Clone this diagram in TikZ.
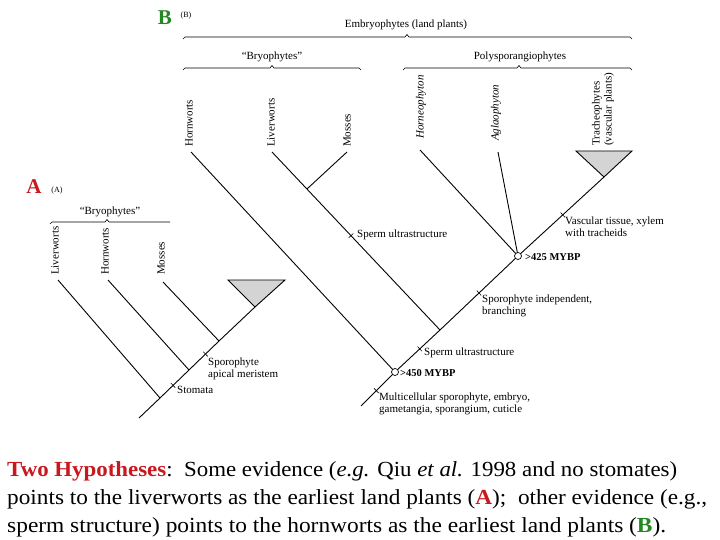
\documentclass[tikz,border=0pt]{standalone}
\usepackage{fontspec}
\usepackage{graphicx}
\setmainfont{Liberation Serif}
\usetikzlibrary{calc}
\definecolor{hypred}{RGB}{200,25,30}
\definecolor{hypgreen}{RGB}{35,135,35}
\definecolor{trifill}{RGB}{212,212,212}
\tikzset{
  branch/.style={line width=0.9pt, black},
  brace/.style={line width=0.6pt, black},
  taxon/.style={font=\fontsize{11}{12}\selectfont, rotate=90, anchor=west, inner sep=0pt},
  itaxon/.style={taxon, font=\fontsize{11}{12}\selectfont\itshape},
  clade/.style={font=\fontsize{11}{12}\selectfont, inner sep=0pt},
  note/.style={font=\fontsize{11}{12}\selectfont, align=left, anchor=west, inner sep=0pt},
  mybp/.style={font=\fontsize{10.5}{12}\selectfont\bfseries, anchor=west, inner sep=0pt},
  ring/.style={circle, draw, fill=white, inner sep=0pt, minimum size=7pt, line width=0.7pt},
  tri/.style={draw, fill=trifill, line width=0.9pt},
  bigletter/.style={font=\fontsize{21}{21}\selectfont\bfseries, inner sep=0pt},
  smallletter/.style={font=\fontsize{8}{8}\selectfont, inner sep=0pt},
  caption/.style={font=\fontsize{21.5}{22}\selectfont, anchor=base west, inner sep=0pt},
}
\newcommand\marktick[2]{\draw[line width=0.6pt] ($(#1)!3.2pt!90:(#2)$) -- ($(#1)!3.2pt!-90:(#2)$);}
\begin{document}
\begin{tikzpicture}[x=1pt,y=-1pt]
\useasboundingbox (0,0) rectangle (720,540);

% ===================== Tree B =====================
\node[bigletter, text=hypgreen] (Bl) at (165,18) {B};
\node[smallletter] (Bs) at (186,16) {(B)};

% brackets
\draw[brace] (183,39) -- (185,37) -- (405,37) -- (407,34.5) -- (409,37) -- (630,37) -- (632,39);
\node[clade] (emb) at (406,25) {Embryophytes (land plants)};
\draw[brace] (183,70) -- (185,68) -- (270,68) -- (272,65.5) -- (274,68) -- (359,68) -- (361,70);
\node[clade] (bryB) at (272,57) {``Bryophytes''};
\draw[brace] (403,70) -- (405,68) -- (517,68) -- (519,65.5) -- (521,68) -- (630,68) -- (632,70);
\node[clade] (poly) at (520,57) {Polysporangiophytes};

% taxon labels
\node[taxon] (hornB) at (189,147) {Hornworts};
\node[taxon] (livB) at (271,147) {Liverworts};
\node[taxon] (mossB) at (347,147) {Mosses};
\node[itaxon] (horneo) at (421,139) {Horneophyton};
\node[itaxon] (aglao) at (496,141) {Aglaophyton};
\node[taxon, align=left] (trach) at (603,146) {Tracheophytes\\(vascular plants)};

% coordinates
\coordinate (rootB) at (361,406);
\coordinate (c450) at (395,372);
\coordinate (jLB) at (440,330);
\coordinate (c425) at (518,256);
\coordinate (apexB) at (604,177);
\coordinate (tHornB) at (191,152);
\coordinate (tLivB) at (272,152);
\coordinate (tMossB) at (347,152);
\coordinate (tHorneo) at (420,150);
\coordinate (tAglao) at (498,152);
\coordinate (jMB) at ($(tLivB)!0.208!(jLB)$);

\draw[tri] (576,151) -- (632,151) -- (apexB) -- cycle;

\draw[branch] (rootB) -- (c450) -- (jLB) -- (c425) -- (apexB);
\draw[branch] (tHornB) -- (c450);
\draw[branch] (tLivB) -- (jLB);
\draw[branch] (tMossB) -- (jMB);
\draw[branch] (tHorneo) -- (c425);
\draw[branch] (tAglao) -- (c425);
\node[ring] (r450) at (c450) {};
\node[ring] (r425) at (c425) {};

% ticks and notes on tree B
\coordinate (kSpermL) at ($(tLivB)!0.47!(jLB)$);
\marktick{kSpermL}{jLB}
\node[note] (nSpermL) at (357,235) {Sperm ultrastructure};

\coordinate (kVasc) at ($(c425)!0.52!(apexB)$);
\marktick{kVasc}{apexB}
\node[note] (nVasc) at (565,227) {Vascular tissue, xylem\\with tracheids};

\coordinate (kSpInd) at ($(jLB)!0.5!(c425)$);
\marktick{kSpInd}{c425}
\node[note] (nSpInd) at (482,306) {Sporophyte independent,\\branching};

\coordinate (kSperm) at ($(c450)!0.55!(jLB)$);
\marktick{kSperm}{jLB}
\node[note] (nSperm) at (424,353) {Sperm ultrastructure};

\coordinate (kMulti) at ($(rootB)!0.45!(c450)$);
\marktick{kMulti}{c450}
\node[note] (nMulti) at (379,404) {Multicellular sporophyte, embryo,\\gametangia, sporangium, cuticle};

\node[mybp] (m450) at (400,373) {>450 MYBP};
\node[mybp] (m425) at (525,257) {>425 MYBP};

% ===================== Tree A =====================
\node[bigletter, text=hypred] (Al) at (34,187) {A};
\node[smallletter] (As) at (57,191) {(A)};

\draw[brace] (50,224) -- (52,222) -- (105,222) -- (107,219.5) -- (109,222) -- (170,222);
\node[clade] (bryA) at (110,212) {``Bryophytes''};

\node[taxon] (livA) at (55,275) {Liverworts};
\node[taxon] (hornA) at (105,275) {Hornworts};
\node[taxon] (mossA) at (161,275) {Mosses};

\coordinate (rootA) at (139,418);
\coordinate (jLA) at (160,398);
\coordinate (jHA) at (189,370);
\coordinate (jMA) at (219,341);
\coordinate (apexA) at (255,307);
\coordinate (tLivA) at (58,280);
\coordinate (tHornA) at (108,280);
\coordinate (tMossA) at (163,282);

\draw[tri] (228,280) -- (285,280) -- (apexA) -- cycle;
\draw[branch] (rootA) -- (jLA) -- (jHA) -- (jMA) -- (apexA);
\draw[branch] (tLivA) -- (jLA);
\draw[branch] (tHornA) -- (jHA);
\draw[branch] (tMossA) -- (jMA);

\coordinate (kStom) at ($(jLA)!0.45!(jHA)$);
\marktick{kStom}{jHA}
\node[note] (nStom) at (177,390) {Stomata};

\coordinate (kApical) at ($(jHA)!0.55!(jMA)$);
\marktick{kApical}{jMA}
\node[note] (nApical) at (208,368.5) {Sporophyte\\apical meristem};

% ===================== Caption =====================
\node[caption] (cap1) at (7,476) {\resizebox{670pt}{\height}{\textcolor{hypred}{\textbf{Two Hypotheses}}:\ \ Some evidence (\textit{e.g.} Qiu \textit{et al.} 1998 and no stomates)}};
\node[caption] (cap2) at (7,504) {\resizebox{700pt}{\height}{points to the liverworts as the earliest land plants (\textcolor{hypred}{\textbf{A}});\ \ other evidence (e.g.,}};
\node[caption] (cap3) at (7,532) {\resizebox{659pt}{\height}{sperm structure) points to the hornworts as the earliest land plants (\textcolor{hypgreen}{\textbf{B}}).}};
\end{tikzpicture}
\end{document}
